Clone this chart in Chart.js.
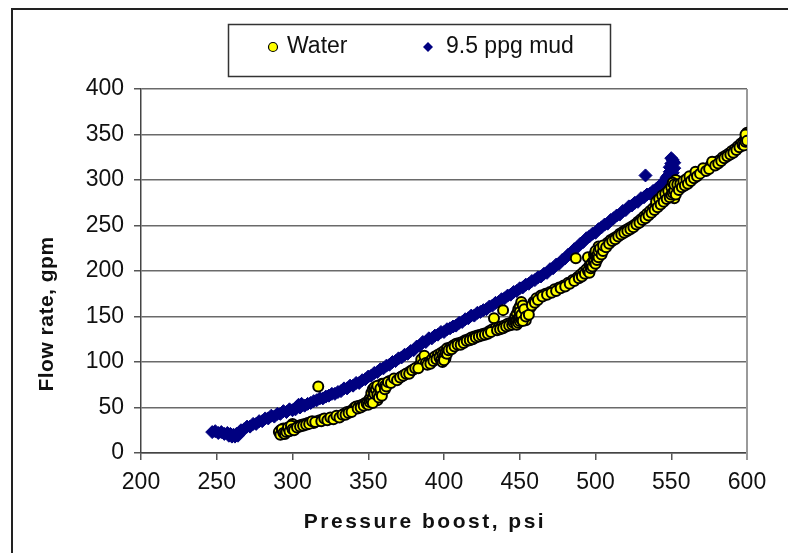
<!DOCTYPE html>
<html><head><meta charset="utf-8">
<script src="https://cdn.jsdelivr.net/npm/chart.js@4/dist/chart.umd.min.js"></script>
<style>html,body{margin:0;padding:0;background:#fff;}canvas{display:block;}</style>
</head><body>
<canvas id="c" width="788" height="553"></canvas>
<script>
const seriesNames = ['Water', '9.5 ppg mud'];
const xTitle = 'Pressure boost, psi';
const yTitle = 'Flow rate, gpm';
const xTicks = [200, 250, 300, 350, 400, 450, 500, 550, 600];
const yTicks = [0, 50, 100, 150, 200, 250, 300, 350, 400];

const waterPts = [
[292,22],[292,25],[293,23],[294,27],[293,21],[295,24],[296,26],[297,25],[298,28],[299,27],[300,32],[301,29],[302,27],[304,30],[306,31],[308,32],[310,33],[312,34],[314,33],[316,35],[317,73],[318,36],[320,37],[322,37],[324,38],[326,38],[328,39],[330,40],[332,41],[334,43],[336,45],[338,46],[340,48],[341,50],[342,51],[344,52],[346,53],[348,55],[350,57],[351,60],[352,66],[353,70],[354,72],[355,62],[356,58],[357,68],[358,74],[359,76],[360,72],[362,77],[364,79],[366,80],[368,81],[370,82],[372,84],[374,86],[376,88],[378,90],[380,92],[382,94],[384,97],[385,103],[386,98],[387,107],[388,99],[390,100],[392,103],[394,106],[396,108],[398,110],[400,112],[401,104],[402,115],[404,116],[406,118],[408,120],[410,121],[412,122],[414,124],[416,125],[418,127],[420,128],[422,129],[424,130],[426,131],[428,132],[430,134],[432,136],[433,148],[434,137],[436,138],[438,139],[439,157],[440,140],[442,142],[444,143],[446,145],[447,150],[448,153],[449,158],[450,161],[451,166],[452,157],[453,150],[454,146],[455,153],[457,160],[459,166],[461,170],[464,173],[467,175],[470,177],[473,180],[476,182],[479,184],[482,187],[485,190],[487,214],[488,193],[490,196],[492,199],[494,202],[495,215],[496,206],[498,210],[499,218],[500,214],[501,222],[502,227],[503,220],[504,224],[506,228],[508,231],[510,234],[512,236],[514,238],[516,241],[518,243],[520,245],[522,247],[524,249],[526,251],[528,254],[530,257],[532,260],[534,263],[536,266],[538,269],[540,272],[541,278],[542,275],[544,278],[546,281],[547,286],[548,283],[549,290],[550,287],[551,293],[552,280],[553,300],[554,290],[556,292],[558,295],[560,297],[562,300],[564,303],[566,305],[568,307],[570,309],[572,311],[574,313],[576,316],[578,318],[580,320],[582,322],[584,325],[586,327],[588,329],[590,332],[592,334],[594,337],[596,340],[598,343],[599,346],[600,345],[600,340],[600,352],
[291,23],[292,20],[293,26],[294,22],[295,21],[296,23],[297,28],[298,24],[299,30],[300,26],[301,25],[303,28],[305,29],[307,30],[309,31],[311,32],[313,35],[315,34],[319,35],[321,38],[323,36],[325,39],[327,37],[329,41],[331,39],[333,42],[335,42],[337,44],[339,45],[343,49],[345,50],[347,52],[349,54],[350,53],[351,56],[352,58],[353,61],[353,55],[354,65],[355,70],[356,74],[356,64],[357,61],[358,67],[358,71],[359,63],[360,76],[361,74],[361,70],[362,73],[363,78],[365,77],[367,82],[369,80],[371,83],[373,85],[375,87],[377,87],[379,91],[381,93],[383,93],[389,97],[391,98],[393,101],[395,103],[397,105],[398,102],[399,108],[399,100],[400,106],[400,102],[401,110],[402,109],[403,113],[405,114],[407,117],[409,119],[411,119],[413,121],[415,123],[417,124],[419,125],[421,127],[423,128],[425,129],[427,130],[429,131],[431,133],[435,135],[437,136],[439,137],[441,139],[443,140],[445,141],[446,143],[447,144],[448,146],[448,141],[449,148],[449,143],[450,145],[450,150],[450,155],[451,147],[451,152],[452,162],[452,145],[453,158],[454,150],[456,152],[458,162],[460,165],[462,168],[465,172],[468,174],[471,176],[474,178],[477,181],[480,183],[483,186],[486,189],[489,192],[491,194],[493,197],[495,200],[496,198],[497,203],[497,207],[498,205],[499,210],[500,208],[500,218],[500,222],[501,212],[501,217],[502,215],[502,222],[503,225],[504,218],[505,222],[505,228],[507,226],[509,230],[511,233],[513,235],[515,238],[517,240],[519,242],[521,244],[523,246],[525,248],[527,251],[529,253],[531,256],[533,258],[535,261],[537,264],[539,267],[540,276],[541,270],[542,279],[543,273],[544,283],[545,276],[546,285],[547,279],[548,288],[549,281],[550,284],[550,292],[551,286],[551,297],[552,288],[552,295],[553,284],[554,295],[555,289],[556,296],[557,292],[558,299],[559,294],[560,301],[561,296],[562,304],[563,299],[565,302],[566,309],[567,304],[569,307],[571,313],[573,310],[575,312],[577,320],[579,316],[581,318],[583,321],[585,324],[587,326],[589,328],[591,330],[593,333],[595,336],[597,339],[598,338],[599,342],[600,348],[599,350],[600,343]
];

const mudPts = [
[247,23],[249,24],[251,22],[253,23],[255,21],[257,22],[258,19],[259,21],[260,18],[261,20],[262,18],[263,21],[264,19],[265,23],[266,25],[268,26],[270,29],[272,29],[274,32],[276,32],[278,35],[280,35],[282,38],[284,38],[286,41],[288,40],[290,43],[292,43],[294,46],[296,45],[298,48],[300,47],[302,48],[303,51],[304,53],[305,50],[306,54],[308,52],[310,54],[312,55],[314,57],[316,58],[318,60],[320,60],[322,62],[324,63],[326,65],[328,65],[330,67],[332,68],[334,71],[336,71],[338,74],[340,74],[342,77],[344,77],[346,80],[348,81],[350,84],[352,85],[354,88],[356,89],[358,92],[360,93],[362,96],[364,97],[366,100],[368,101],[370,104],[372,105],[374,108],[376,109],[378,112],[380,113],[382,117],[384,118],[386,122],[388,122],[390,126],[392,126],[394,129],[396,130],[398,133],[400,133],[402,136],[404,137],[406,139],[408,140],[410,143],[412,144],[414,147],[416,148],[418,151],[420,151],[422,154],[424,155],[426,157],[428,158],[430,161],[432,162],[434,165],[436,166],[438,169],[440,170],[442,173],[444,174],[446,177],[448,178],[450,181],[452,182],[454,185],[456,186],[458,189],[460,190],[462,193],[464,194],[466,197],[468,198],[470,202],[472,203],[474,207],[476,208],[478,212],[480,214],[482,218],[484,220],[486,224],[488,226],[490,230],[492,232],[494,236],[496,238],[498,241],[500,242],[502,246],[504,248],[506,251],[508,252],[510,256],[512,258],[514,261],[516,262],[518,266],[520,267],[522,271],[524,272],[526,275],[528,276],[530,280],[532,281],[534,284],[536,285],[538,288],[540,290],[542,293],[544,295],[545,298],[546,300],[547,303],[548,305],[549,309],[549,314],[550,318],[551,322],[550,324],[552,319],[552,313],[551,308],[550,303],[533,305]
];

const toXY = p => ({x: p[0], y: p[1]});

const framePlugin = {
  id: 'frame',
  beforeDraw(chart) {
    const ctx = chart.ctx;
    ctx.save();
    ctx.fillStyle = '#fff';
    ctx.fillRect(0, 0, chart.width, chart.height);
    ctx.strokeStyle = '#222';
    ctx.lineWidth = 2;
    ctx.beginPath();
    ctx.moveTo(12, chart.height + 5);
    ctx.lineTo(12, 9);
    ctx.lineTo(chart.width + 5, 9);
    ctx.stroke();
    ctx.restore();
  },
  beforeDatasetsDraw(chart) {
    const ctx = chart.ctx, a = chart.chartArea;
    ctx.save();
    ctx.strokeStyle = '#9a9a9a';
    ctx.lineWidth = 2;
    ctx.beginPath();
    ctx.moveTo(Math.round(a.right), a.top);
    ctx.lineTo(Math.round(a.right), a.bottom + 7);
    ctx.stroke();
    ctx.restore();
  },
  afterDraw(chart) {
    const ctx = chart.ctx;
    ctx.save();
    ctx.strokeStyle = '#333';
    ctx.lineWidth = 1.5;
    ctx.strokeRect(228.5, 24.5, 382, 52);
    ctx.font = '23px "Liberation Sans", Arial, sans-serif';
    ctx.textBaseline = 'middle';
    ctx.textAlign = 'left';
    ctx.beginPath();
    ctx.arc(273, 47, 4.5, 0, Math.PI * 2);
    ctx.fillStyle = '#ffff00';
    ctx.fill();
    ctx.lineWidth = 1.2;
    ctx.strokeStyle = '#000';
    ctx.stroke();
    ctx.fillStyle = '#111';
    ctx.fillText(seriesNames[0], 287, 47);
    ctx.beginPath();
    ctx.moveTo(428, 42); ctx.lineTo(433, 47); ctx.lineTo(428, 52); ctx.lineTo(423, 47); ctx.closePath();
    ctx.fillStyle = '#000080';
    ctx.fill();
    ctx.fillStyle = '#111';
    ctx.fillText(seriesNames[1], 446, 47);
    ctx.font = 'bold 21px "Liberation Sans", Arial, sans-serif';
    ctx.fillStyle = '#111';
    ctx.textAlign = 'center';
    try { ctx.letterSpacing = '2.5px'; } catch (e) {}
    ctx.fillText(xTitle, 425, 522);
    ctx.translate(47, 314);
    ctx.rotate(-Math.PI / 2);
    try { ctx.letterSpacing = '0.5px'; } catch (e) {}
    ctx.fillText(yTitle, 0, 0);
    ctx.restore();
  }
};

new Chart(document.getElementById('c'), {
  type: 'scatter',
  data: {
    datasets: [
      {
        label: seriesNames[0],
        data: waterPts.map(toXY),
        pointStyle: 'circle',
        pointRadius: 5,
        pointHoverRadius: 5,
        backgroundColor: '#ffff00',
        borderColor: '#000000',
        borderWidth: 2
      },
      {
        label: seriesNames[1],
        data: mudPts.map(toXY),
        pointStyle: 'rectRot',
        pointRadius: 6.5,
        pointHoverRadius: 6.5,
        backgroundColor: '#000080',
        borderColor: '#000080',
        borderWidth: 1
      }
    ]
  },
  options: {
    responsive: false,
    animation: false,
    devicePixelRatio: 1,
    events: [],
    layout: { padding: { top: 89, right: 41, left: 0, bottom: 0 } },
    plugins: { legend: { display: false }, tooltip: { enabled: false } },
    scales: {
      x: {
        type: 'linear',
        min: xTicks[0], max: xTicks[xTicks.length - 1],
        afterBuildTicks: s => { s.ticks = xTicks.map(v => ({value: v})); },
        afterFit: s => { s.height = 100; },
        grid: { drawOnChartArea: false, tickLength: 7, tickColor: '#555', lineWidth: 1.5 },
        border: { display: true, color: '#444', width: 1.5 },
        ticks: { color: '#111', padding: 9, font: { family: '"Liberation Sans", Arial, sans-serif', size: 23 }, maxRotation: 0 }
      },
      y: {
        type: 'linear',
        min: yTicks[0], max: yTicks[yTicks.length - 1],
        afterBuildTicks: s => { s.ticks = yTicks.map(v => ({value: v})); },
        afterFit: s => { s.width = 141; },
        grid: { color: '#6a6a6a', lineWidth: 1.5, tickLength: 7, tickColor: '#555' },
        border: { display: true, color: '#444', width: 1.5 },
        ticks: { color: '#111', padding: 10, font: { family: '"Liberation Sans", Arial, sans-serif', size: 23 } }
      }
    }
  },
  plugins: [framePlugin]
});
</script>
</body></html>
